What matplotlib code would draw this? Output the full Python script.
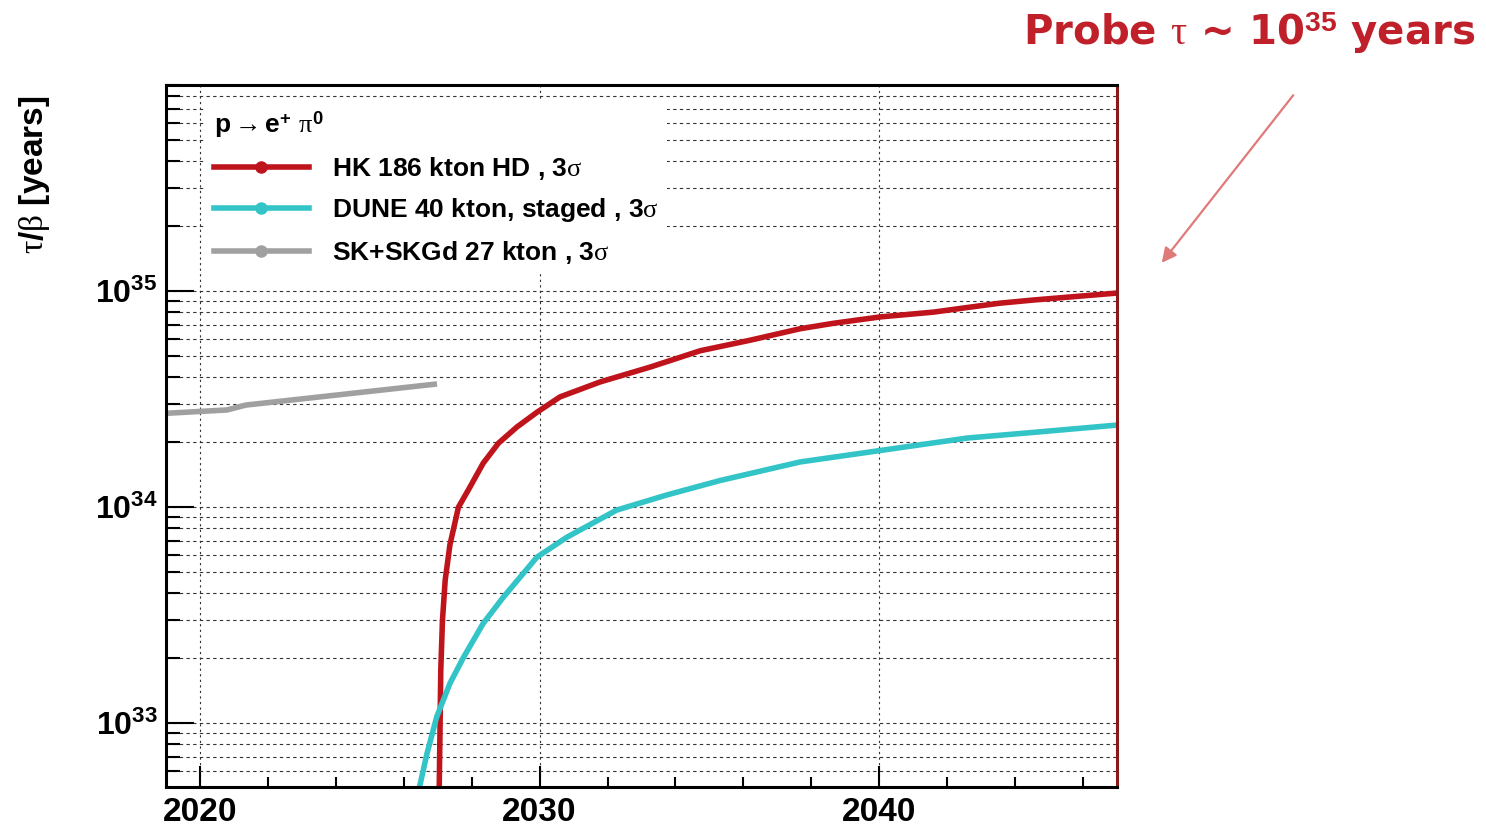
import math
import matplotlib
matplotlib.use("Agg")
import matplotlib.pyplot as plt
from matplotlib.ticker import MultipleLocator, LogLocator, FuncFormatter, NullFormatter
from matplotlib.lines import Line2D

plt.rcParams['font.family'] = ['Liberation Sans', 'DejaVu Sans']
plt.rcParams['mathtext.fontset'] = 'custom'
plt.rcParams['mathtext.rm'] = 'Liberation Sans:bold'
plt.rcParams['mathtext.bf'] = 'Liberation Sans:bold'
plt.rcParams['mathtext.it'] = 'Liberation Serif'
plt.rcParams['mathtext.sf'] = 'Liberation Sans:bold'

# --- data ---
hk_year = [2027.04, 2027.07, 2027.09, 2027.14, 2027.22, 2027.36, 2027.61, 2027.95,
           2028.34, 2028.79, 2029.33, 2029.92, 2030.60, 2031.78, 2033.25, 2034.73,
           2036.2, 2037.67, 2038.65, 2040.03, 2041.6, 2042.59, 2043.56, 2044.54,
           2047.0]
hk_tau = [4.5e32, 1.0e33, 1.76e33, 3.0e33, 4.6e33, 6.7e33, 1.0e34, 1.24e34,
          1.6e34, 1.98e34, 2.35e34, 2.75e34, 3.24e34, 3.8e34, 4.45e34, 5.3e34,
          5.93e34, 6.7e34, 7.1e34, 7.6e34, 8.0e34, 8.4e34, 8.8e34, 9.1e34,
          9.8e34]

dune_year = [2026.42, 2026.48, 2026.68, 2026.97, 2027.36, 2027.76, 2028.34, 2028.93,
             2029.92, 2030.80, 2032.27, 2033.75, 2035.32, 2037.67, 2040.03, 2042.59,
             2044.54, 2047.0]
dune_tau = [4.8e32, 5.2e32, 7.2e32, 1.07e33, 1.53e33, 2.02e33, 2.9e33, 3.83e33,
            5.87e33, 7.26e33, 9.7e33, 1.14e34, 1.33e34, 1.62e34, 1.83e34, 2.09e34,
            2.22e34, 2.4e34]

sk_year = [2019.0, 2020.8, 2021.35, 2026.98]
sk_tau = [2.72e34, 2.82e34, 2.97e34, 3.72e34]

labels = ['HK 186 kton HD , 3$\\sigma$',
          'DUNE 40 kton, staged , 3$\\sigma$',
          'SK+SKGd 27 kton , 3$\\sigma$']
colors = ['#c0141c', '#33c4c8', '#a0a0a0']

fig = plt.figure(figsize=(14.86, 8.27), dpi=100)
ax = fig.add_axes([166/1486, 1-787/827, (1117-166)/1486, (787-85)/827])

ax.plot(hk_year, hk_tau, color=colors[0], lw=4, solid_capstyle='butt', solid_joinstyle='round')
ax.plot(dune_year, dune_tau, color=colors[1], lw=4, solid_capstyle='butt', solid_joinstyle='round')
ax.plot(sk_year, sk_tau, color=colors[2], lw=4, solid_capstyle='butt', solid_joinstyle='round')

ax.set_yscale('log')
ax.set_xlim(2019, 2047)
ax.set_ylim(5.07e32, 9e35)

ax.xaxis.set_major_locator(MultipleLocator(10))
ax.xaxis.set_minor_locator(MultipleLocator(2))
ax.yaxis.set_major_locator(LogLocator(base=10))
ax.yaxis.set_minor_locator(LogLocator(base=10, subs=range(2, 10)))
ax.yaxis.set_major_formatter(FuncFormatter(lambda v, p: r'$\mathbf{10^{%d}}$' % round(math.log10(v))))
ax.yaxis.set_minor_formatter(NullFormatter())
ax.xaxis.set_major_formatter(FuncFormatter(lambda v, p: '%d' % v))

ax.tick_params(axis='both', which='both', direction='in', top=False, right=False, width=1.5, color='black')
ax.tick_params(axis='x', which='major', length=15, labelsize=24, pad=7)
ax.tick_params(axis='x', which='minor', length=7)
ax.tick_params(axis='y', which='major', length=20, labelsize=23, pad=6)
ax.tick_params(axis='y', which='minor', length=10)
for lab in ax.get_xticklabels():
    lab.set_fontweight('bold')

ax.grid(True, axis='y', which='both', color='#333333', linestyle=(0, (3, 3)), lw=0.8)
ax.grid(True, axis='x', which='major', color='#333333', linestyle=(0, (2, 3)), lw=0.8)

for s in ax.spines.values():
    s.set_linewidth(2.2)
    s.set_color('black')
ax.spines['right'].set_color('#8a1a1a')

ax.set_ylabel(r'$\tau/\beta$ [years]', fontsize=24, fontweight='bold')
ax.yaxis.set_label_coords(-0.12, 0.872)

handles = [Line2D([], [], color=c, lw=4, marker='o', markersize=8) for c in colors]
leg = ax.legend(handles, labels, loc='upper left', bbox_to_anchor=(0.028, 0.995),
                title=r'p$\rightarrow$e$^{+}$ $\pi^{0}$', title_fontproperties={'size': 19, 'weight': 'bold'},
                alignment='left', handlelength=3.6, handletextpad=0.9,
                labelspacing=0.55, frameon=True, facecolor='white', edgecolor='none',
                framealpha=1, borderpad=0.3, prop={'size': 19, 'weight': 'bold'})

fig.text(0.993, 0.945, r'Probe $\tau$ ~ 10$^{35}$ years', ha='right', va='baseline',
         color='#c0202a', fontsize=29, fontweight='bold', family='DejaVu Sans')

ax.annotate('', xy=(1160/1486, 1-265/827), xytext=(1295/1486, 1-93/827),
            xycoords='figure fraction', textcoords='figure fraction',
            arrowprops=dict(arrowstyle='-|>', color='#e07a7a', lw=1.6, mutation_scale=22))

fig.savefig('out.png', dpi=100)
